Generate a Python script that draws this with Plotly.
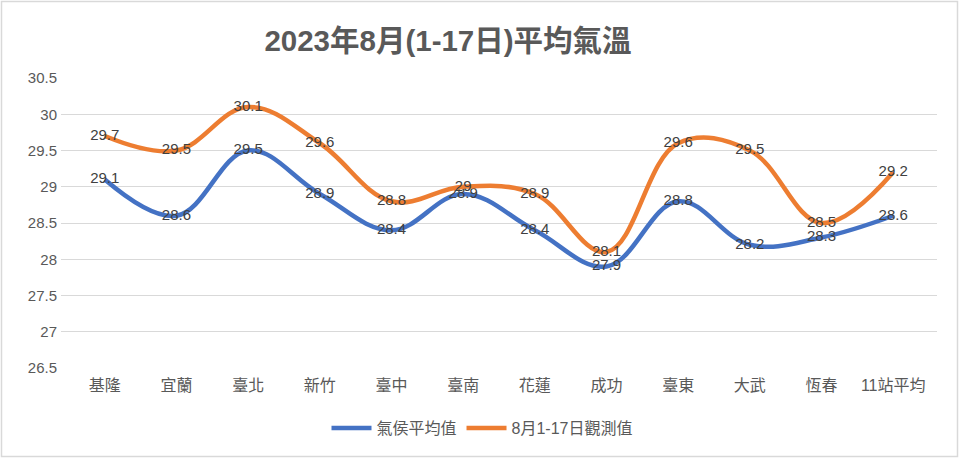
import plotly.graph_objects as go

categories = ["基隆", "宜蘭", "臺北", "新竹", "臺中", "臺南", "花蓮", "成功", "臺東", "大武", "恆春", "11站平均"]
climate_avg = [29.1, 28.6, 29.5, 28.9, 28.4, 28.9, 28.4, 27.9, 28.8, 28.2, 28.3, 28.6]
observed = [29.7, 29.5, 30.1, 29.6, 28.8, 29.0, 28.9, 28.1, 29.6, 29.5, 28.5, 29.2]
series_names = ["氣侯平均值", "8月1-17日觀測值"]
y_ticks = [26.5, 27, 27.5, 28, 28.5, 29, 29.5, 30, 30.5]

W, H = 960, 459
L, R, T, B = 61, 23, 78, 91
pw, ph = W - L - R, H - T - B

font_family = "Liberation Sans, Noto Sans CJK TC, sans-serif"

fig = go.Figure()
for name, vals, color in [(series_names[0], climate_avg, "#4472C4"), (series_names[1], observed, "#ED7D31")]:
    fig.add_trace(go.Scatter(
        x=categories, y=vals, name=name, mode="lines+text",
        line=dict(color=color, width=4.5, shape="spline", smoothing=1.1),
        text=[f"{v:g}" for v in vals], textposition="middle center",
        textfont=dict(size=15, color="#404040", family=font_family),
        cliponaxis=False,
    ))

fig.update_layout(
    width=W, height=H,
    margin=dict(l=L, r=R, t=T, b=B),
    paper_bgcolor="white", plot_bgcolor="white",
    title=dict(text="<b>2023年8月(1-17日)平均氣溫</b>", x=448 / W, xanchor="center",
               y=1 - 41 / H, yanchor="middle",
               font=dict(size=29.5, color="#595959", family="Liberation Sans, Noto Sans CJK TC")),
    xaxis=dict(showgrid=False, showline=False, ticks="", zeroline=False,
               tickfont=dict(size=16, color="#595959", family=font_family), ticklabelstandoff=6),
    yaxis=dict(range=[26.5, 30.5], tickvals=y_ticks, ticktext=[f"{v:g}" for v in y_ticks],
               showgrid=True, gridcolor="#D9D9D9", gridwidth=1, zeroline=False, showline=False,
               tickfont=dict(size=15, color="#595959", family=font_family), ticklabelstandoff=3),
    legend=dict(orientation="h", x=(482 - L) / pw, xanchor="center", y=-(428 - (T + ph)) / ph,
                yanchor="middle", font=dict(size=16, color="#595959", family=font_family),
                itemwidth=40, traceorder="normal"),
    shapes=[dict(type="rect", xref="paper", yref="paper",
                 x0=(1.5 - L) / pw, x1=(W - 2.5 - L) / pw,
                 y0=-(H - 2.5 - T - ph) / ph, y1=1 + (T - 1.5) / ph,
                 line=dict(color="#D9D9D9", width=1.5), fillcolor="rgba(0,0,0,0)", layer="below")],
)

fig.write_html("out.html", config={"displayModeBar": False},
               post_script="document.body.style.margin='0px';document.body.style.padding='0px';")
